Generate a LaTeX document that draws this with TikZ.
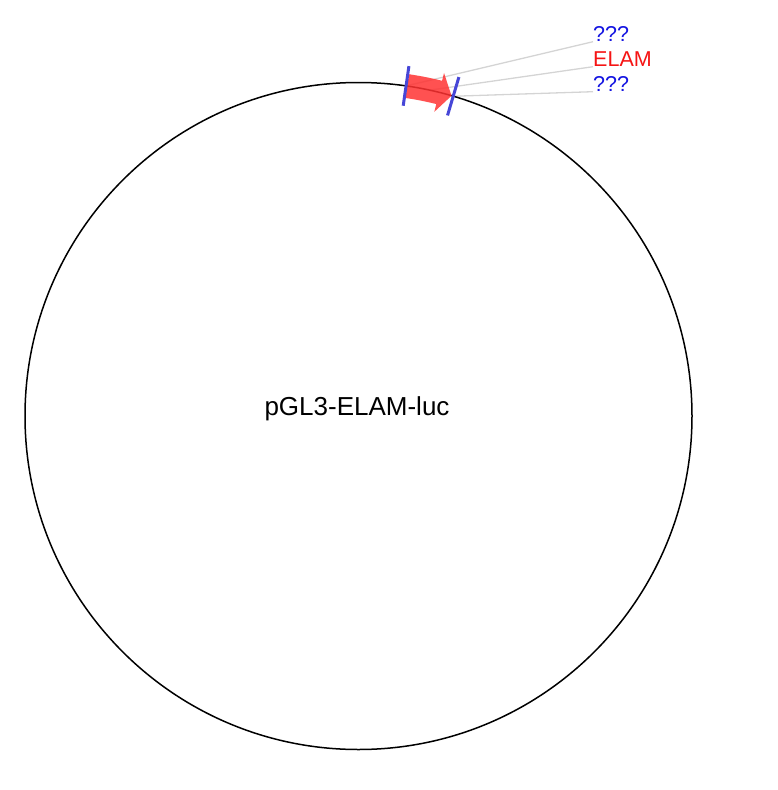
\documentclass[tikz,border=0pt]{standalone}
\usepackage{fontspec}
\setmainfont{Liberation Sans}
\definecolor{tickblue}{RGB}{70,70,215}
\definecolor{labblue}{RGB}{20,20,225}
\definecolor{labred}{RGB}{245,20,20}
\definecolor{featred}{RGB}{255,50,50}
\definecolor{leadgray}{RGB}{212,212,212}
\begin{document}
\begin{tikzpicture}[x=1pt,y=-1pt,
  declare function={px(\a,\r)=358.5+\r*sin(\a); py(\a,\r)=416-\r*cos(\a);},
  backbone/.style={draw=black,line width=1.5pt},
  sitetick/.style={draw=tickblue,line width=3pt},
  leader/.style={draw=leadgray,line width=1.3pt},
  featlabel/.style={anchor=base west,inner sep=0pt,font=\fontsize{21.5}{25}\selectfont},
  feature/.style={fill=featred,fill opacity=0.85,draw=none}]
\useasboundingbox (0,0) rectangle (777,790);
% coordinates on the backbone
\coordinate (t1) at ({px(8.2,333.5)},{py(8.2,333.5)});
\coordinate (m)  at ({px(12.3,333.5)},{py(12.3,333.5)});
\coordinate (t2) at ({px(16.5,333.5)},{py(16.5,333.5)});
% labels
\node[featlabel,text=labblue] (l1) at (593,41.7) {???};
\node[featlabel,text=labred]  (l2) at (593,66.7) {ELAM};
\node[featlabel,text=labblue] (l3) at (593,91.7) {???};
% leader lines
\draw[leader] (t1) -- (l1.base west);
\draw[leader] (m)  -- (l2.base west);
\draw[leader] (t2) -- (l3.base west);
% backbone circle
\node[circle,backbone,minimum size=667pt,inner sep=0pt] (bb) at (358.5,416) {};
\node[inner sep=0pt,anchor=base,font=\fontsize{26}{31}\selectfont] (name) at (357,415) {pGL3-ELAM-luc};
% feature arrow
\path[feature]
  plot[domain=8.4:14,samples=20] ({px(\x,345.5)},{py(\x,345.5)})
  -- ({px(14,353.5)},{py(14,353.5)})
  -- ({px(16.2,333.5)},{py(16.2,333.5)})
  -- ({px(14,313.5)},{py(14,313.5)})
  -- plot[domain=14:8.4,samples=20] ({px(\x,321.5)},{py(\x,321.5)})
  -- cycle;
% site ticks
\draw[sitetick] ({px(8.2,313.5)},{py(8.2,313.5)}) -- ({px(8.2,353.5)},{py(8.2,353.5)});
\draw[sitetick] ({px(16.5,313.5)},{py(16.5,313.5)}) -- ({px(16.5,353.5)},{py(16.5,353.5)});
\end{tikzpicture}
\end{document}
